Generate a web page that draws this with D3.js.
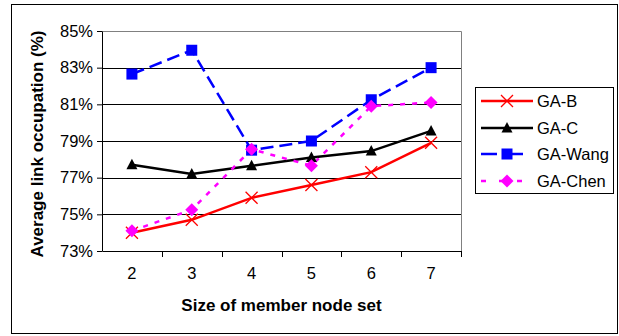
<!DOCTYPE html>
<html>
<head>
<meta charset="utf-8">
<script src="https://cdn.jsdelivr.net/npm/d3@7/dist/d3.min.js"></script>
<style>
  body { margin: 0; background: #fff; }
  svg { display: block; font-family: "Liberation Sans", Arial, sans-serif; }
</style>
</head>
<body>
<div id="chart"></div>
<script>
// chart data
const sizes = [2, 3, 4, 5, 6, 7];
const yTicks = [73, 75, 77, 79, 81, 83, 85];
const gaB = [74.0, 74.7, 75.9, 76.6, 77.3, 78.9];
const gaC = [77.7, 77.2, 77.65, 78.1, 78.45, 79.55];
const gaWang = [82.65, 83.95, 78.5, 79.0, 81.25, 83.0];
const gaChen = [74.1, 75.25, 78.55, 77.65, 80.9, 81.1];

const seriesList = [
  { name: 'GA-B', values: gaB, color: '#ff0000', dash: null, marker: 'x' },
  { name: 'GA-C', values: gaC, color: '#000000', dash: null, marker: 'triangle' },
  { name: 'GA-Wang', values: gaWang, color: '#0000ff', dash: '13,6', marker: 'square' },
  { name: 'GA-Chen', values: gaChen, color: '#ff00ff', dash: '5,7', marker: 'diamond' }
];

const width = 619, height = 336;
const margin = { top: 31, right: 158, bottom: 85, left: 102 };
const plotW = width - margin.left - margin.right;
const plotH = height - margin.top - margin.bottom;

const svg = d3.select('#chart').append('svg')
  .attr('width', width)
  .attr('height', height);

// outer frame
svg.append('rect')
  .attr('x', 11.5).attr('y', 4.5)
  .attr('width', 606).attr('height', 329)
  .attr('fill', 'none').attr('stroke', '#000').attr('stroke-width', 1);

const g = svg.append('g')
  .attr('transform', 'translate(' + margin.left + ',' + margin.top + ')');

const x = d3.scaleBand()
  .range([0, plotW])
  .padding(0)
  .domain(sizes);

const y = d3.scaleLinear()
  .range([plotH, 0])
  .domain([73, 85]);

// gridlines
g.selectAll('.grid')
  .data(yTicks.slice(1, -1))
  .enter().append('line')
  .attr('x1', 0).attr('x2', plotW)
  .attr('y1', d => Math.round(y(d)) + 0.5)
  .attr('y2', d => Math.round(y(d)) + 0.5)
  .attr('stroke', '#000').attr('stroke-width', 1);

// plot frame (top + right in grey)
g.append('path')
  .attr('d', 'M0,0.5H' + (plotW + 0.5) + 'V' + plotH)
  .attr('fill', 'none').attr('stroke', '#808080').attr('stroke-width', 1);

// y axis
const yAxis = g.append('g')
  .call(d3.axisLeft(y).tickValues(yTicks).tickSize(5).tickSizeOuter(0)
    .tickFormat(d => d + '%'));
yAxis.select('.domain').attr('stroke', '#000');
yAxis.selectAll('text').attr('font-size', 16.5).attr('fill', '#000').attr('dx', -1);

// x axis: ticks at band boundaries
const xAxis = g.append('g')
  .attr('transform', 'translate(0,' + plotH + ')')
  .call(d3.axisBottom(x).tickSize(0).tickPadding(16));
xAxis.select('.domain').attr('stroke', '#000');
xAxis.selectAll('text').attr('font-size', 16.5).attr('fill', '#000');
xAxis.selectAll('.sep')
  .data(sizes)
  .enter().append('line')
  .attr('class', 'sep')
  .attr('x1', d => Math.round(x(d) + x.bandwidth()) + 0.5)
  .attr('x2', d => Math.round(x(d) + x.bandwidth()) + 0.5)
  .attr('y1', 0).attr('y2', 6)
  .attr('stroke', '#000');

// axis titles
svg.append('text')
  .attr('transform', 'translate(39,' + (margin.top + plotH / 2 + 3) + ') rotate(-90)')
  .attr('text-anchor', 'middle')
  .attr('dominant-baseline', 'middle')
  .attr('font-size', 17).attr('font-weight', 'bold')
  .text('Average link occupation (%)');

svg.append('text')
  .attr('x', margin.left + plotW / 2)
  .attr('y', 311)
  .attr('text-anchor', 'middle')
  .attr('font-size', 17).attr('font-weight', 'bold')
  .text('Size of member node set');

function drawMarker(sel, type, color) {
  if (type === 'x') {
    sel.append('path').attr('d', 'M-6,-6L6,6M-6,6L6,-6')
      .attr('stroke', color).attr('stroke-width', 1.3).attr('fill', 'none');
  } else if (type === 'triangle') {
    sel.append('path').attr('d', 'M0,-6L5.5,4.5L-5.5,4.5Z').attr('fill', color);
  } else if (type === 'square') {
    sel.append('rect').attr('x', -5.5).attr('y', -5.5).attr('width', 11).attr('height', 11)
      .attr('fill', color);
  } else if (type === 'diamond') {
    sel.append('path').attr('d', 'M0,-6.5L6.5,0L0,6.5L-6.5,0Z').attr('fill', color);
  }
}

const cx = d => x(d) + x.bandwidth() / 2;

seriesList.forEach(s => {
  const line = d3.line()
    .x((d, i) => cx(sizes[i]))
    .y(d => y(d));
  g.append('path')
    .datum(s.values)
    .attr('d', line)
    .attr('fill', 'none')
    .attr('stroke', s.color)
    .attr('stroke-width', 2.5)
    .attr('stroke-dasharray', s.dash);
});

seriesList.forEach(s => {
  g.selectAll(null)
    .data(s.values)
    .enter().append('g')
    .attr('transform', (d, i) => 'translate(' + cx(sizes[i]) + ',' + y(d) + ')')
    .each(function () { drawMarker(d3.select(this), s.marker, s.color); });
});

// legend
const legend = svg.append('g');
legend.append('rect')
  .attr('x', 475.5).attr('y', 87.5)
  .attr('width', 138).attr('height', 106)
  .attr('fill', '#fff').attr('stroke', '#000');

seriesList.forEach((s, i) => {
  const ly = [101, 128, 154, 181][i];
  legend.append('line')
    .attr('x1', 481).attr('x2', 533)
    .attr('y1', ly).attr('y2', ly)
    .attr('stroke', s.color).attr('stroke-width', 2.5)
    .attr('stroke-dasharray', s.dash ? (s.name === 'GA-Chen' ? '5,13' : '16,10') : null);
  const m = legend.append('g').attr('transform', 'translate(507,' + ly + ')');
  drawMarker(m, s.marker, s.color);
  legend.append('text')
    .attr('x', 537).attr('y', ly)
    .attr('dominant-baseline', 'central')
    .attr('font-size', 16.5)
    .text(s.name);
});
</script>
</body>
</html>
